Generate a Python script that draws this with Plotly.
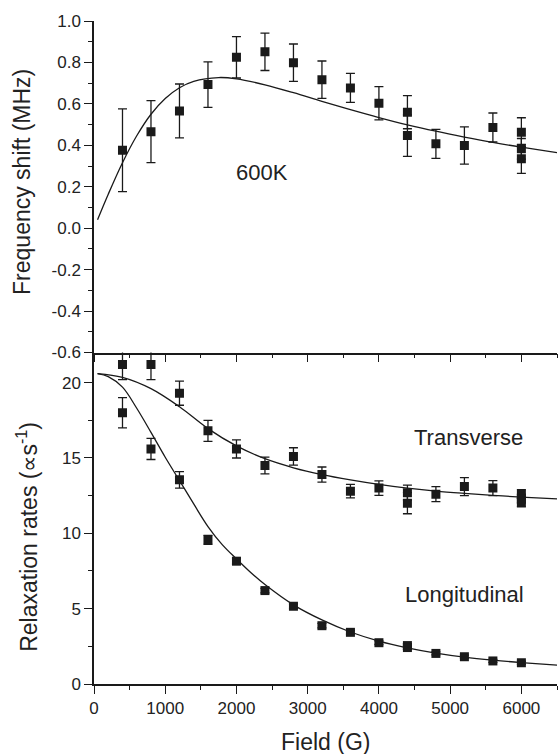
import plotly.graph_objects as go
from plotly.subplots import make_subplots

# ---------------- data ----------------
# Top panel: frequency shift (MHz) at 600 K
shift_field = [400, 800, 1200, 1600, 2000, 2400, 2800, 3200, 3600, 4000, 4400, 4400,
               4800, 5200, 5600, 6000, 6000, 6000]
shift_vals = [0.376, 0.466, 0.566, 0.693, 0.825, 0.851, 0.799, 0.717, 0.677, 0.603,
              0.560, 0.447, 0.407, 0.399, 0.486, 0.463, 0.383, 0.335]
shift_err = [0.20, 0.15, 0.13, 0.11, 0.10, 0.09, 0.09, 0.09, 0.07, 0.08,
             0.08, 0.10, 0.07, 0.09, 0.07, 0.07, 0.05, 0.07]

shift_fit_field = [50, 200, 400, 600, 800, 1000, 1200, 1400, 1750, 2000, 2400, 2800,
                   3200, 3600, 4000, 4400, 4800, 5200, 5600, 6000, 6500]
shift_fit_vals = [0.041, 0.164, 0.316, 0.446, 0.550, 0.626, 0.678, 0.709, 0.727, 0.721,
                  0.692, 0.654, 0.612, 0.572, 0.534, 0.499, 0.468, 0.440, 0.414, 0.391, 0.365]

# Bottom panel: relaxation rates
trans_field = [400, 800, 1200, 1600, 2000, 2400, 2800, 3200, 3600, 4000, 4400, 4400,
               4800, 5200, 5600, 6000, 6000, 6000]
trans_vals = [21.2, 21.2, 19.3, 16.8, 15.6, 14.5, 15.1, 13.9, 12.8, 13.0, 12.7, 12.0,
              12.6, 13.1, 13.0, 12.6, 12.3, 12.05]
trans_err = [1.0, 1.0, 0.8, 0.7, 0.6, 0.55, 0.58, 0.5, 0.45, 0.48, 0.5, 0.7,
             0.5, 0.6, 0.5, 0.3, 0.3, 0.3]

long_field = [400, 800, 1200, 1600, 2000, 2400, 2800, 3200, 3600, 4000, 4400, 4400,
              4800, 5200, 5600, 6000]
long_vals = [18.0, 15.6, 13.55, 9.57, 8.15, 6.2, 5.16, 3.87, 3.43, 2.74, 2.55, 2.42,
             2.03, 1.81, 1.53, 1.41]
long_err = [1.0, 0.7, 0.55, 0.3, 0.2, 0.15, 0.15, 0.15, 0.12, 0.12, 0.12, 0.12,
            0.1, 0.1, 0.1, 0.1]

trans_fit_field = [50, 400, 800, 1200, 1600, 2000, 2400, 2800, 3200, 3600, 4000,
                   4400, 4800, 5200, 5600, 6000, 6500]
trans_fit_vals = [20.6, 20.35, 19.6, 18.4, 16.95, 15.8, 14.95, 14.35, 13.9, 13.55, 13.25,
                  13.0, 12.8, 12.65, 12.52, 12.4, 12.28]

long_fit_field = [50, 200, 400, 600, 800, 1000, 1200, 1400, 1600, 1800, 2000, 2200, 2400,
                  2800, 3200, 3600, 4000, 4400, 4800, 5200, 5600, 6000, 6500]
long_fit_vals = [20.6, 20.4, 19.7, 18.3, 16.7, 15.05, 13.5, 11.95, 10.45, 9.25, 8.3, 7.4,
                 6.6, 5.25, 4.25, 3.45, 2.85, 2.4, 2.05, 1.78, 1.58, 1.42, 1.25]

top_ytick_vals = [-0.6, -0.4, -0.2, 0.0, 0.2, 0.4, 0.6, 0.8, 1.0]
top_ytick_text = ["-0.6", "-0.4", "-0.2", "0.0", "0.2", "0.4", "0.6", "0.8", "1.0"]
bot_ytick_vals = [0, 5, 10, 15, 20]
xtick_vals = [0, 1000, 2000, 3000, 4000, 5000, 6000]

# ---------------- styling ----------------
INK = "#1a1a1a"
FONT = "Liberation Sans, Arial, Helvetica, sans-serif"

fig = make_subplots(rows=2, cols=1, shared_xaxes=False, vertical_spacing=0.0)

marker = dict(symbol="square", size=9, color=INK, line=dict(width=0))

def ebar(err):
    return dict(type="data", array=err, visible=True, color=INK, thickness=1.3, width=4.5)

fig.add_trace(go.Scatter(x=shift_field, y=shift_vals, mode="markers", marker=marker,
                         error_y=ebar(shift_err), showlegend=False), row=1, col=1)
fig.add_trace(go.Scatter(x=shift_fit_field, y=shift_fit_vals, mode="lines",
                         line=dict(color=INK, width=1.3, shape="spline"),
                         showlegend=False), row=1, col=1)

fig.add_trace(go.Scatter(x=trans_field, y=trans_vals, mode="markers", marker=marker,
                         error_y=ebar(trans_err), showlegend=False), row=2, col=1)
fig.add_trace(go.Scatter(x=long_field, y=long_vals, mode="markers", marker=marker,
                         error_y=ebar(long_err), showlegend=False), row=2, col=1)
fig.add_trace(go.Scatter(x=trans_fit_field, y=trans_fit_vals, mode="lines",
                         line=dict(color=INK, width=1.3, shape="spline"),
                         showlegend=False), row=2, col=1)
fig.add_trace(go.Scatter(x=long_fit_field, y=long_fit_vals, mode="lines",
                         line=dict(color=INK, width=1.3, shape="spline"),
                         showlegend=False), row=2, col=1)

axis_common = dict(showline=True, linecolor=INK, linewidth=1.5, showgrid=False,
                   zeroline=False, ticks="outside", ticklen=8, tickwidth=1.3,
                   tickcolor=INK, tickfont=dict(family=FONT, size=17, color="#222"))

fig.update_layout(
    xaxis=dict(axis_common, range=[0, 6500], tickvals=xtick_vals, showticklabels=False,
               domain=[0, 1],
               minor=dict(dtick=500, tick0=0, ticks="outside", ticklen=4, tickwidth=1.3,
                          tickcolor=INK, showgrid=False)),
    yaxis=dict(axis_common, range=[-0.6, 1.0], domain=[0.5, 1],
               tickvals=top_ytick_vals, ticktext=top_ytick_text,
               minor=dict(dtick=0.1, tick0=0, ticks="outside", ticklen=4, tickwidth=1.3,
                          tickcolor=INK, showgrid=False)),
    xaxis2=dict(axis_common, range=[0, 6500], tickvals=xtick_vals, domain=[0, 1],
                minor=dict(dtick=500, tick0=0, ticks="outside", ticklen=4, tickwidth=1.3,
                           tickcolor=INK, showgrid=False)),
    yaxis2=dict(axis_common, range=[0, 22], domain=[0, 0.5], tickvals=bot_ytick_vals,
                minor=dict(dtick=2.5, tick0=0, ticks="outside", ticklen=4, tickwidth=1.3,
                           tickcolor=INK, showgrid=False)),
    width=558, height=754,
    margin=dict(l=94, r=1, t=21, b=70),
    paper_bgcolor="white", plot_bgcolor="white",
    font=dict(family=FONT, color="#222"),
)

ann_font_title = dict(family=FONT, size=23, color="#222")
ann_font_label = dict(family=FONT, size=22, color="#222")
fig.add_annotation(text="Frequency shift (MHz)", textangle=-90, xref="paper", yref="paper",
                   x=-0.1544, y=0.7565, xanchor="center", yanchor="middle",
                   showarrow=False, font=ann_font_title)
fig.add_annotation(text="Relaxation rates (\u221ds<sup>-1</sup>)", textangle=-90,
                   xref="paper", yref="paper", x=-0.1436, y=0.2213,
                   xanchor="center", yanchor="middle", showarrow=False, font=ann_font_title)
fig.add_annotation(text="Field (G)", xref="paper", yref="paper", x=0.5, y=-0.087,
                   xanchor="center", yanchor="middle", showarrow=False, font=ann_font_title)
fig.add_annotation(text="600K", xref="x", yref="y", x=2355, y=0.271,
                   xanchor="center", yanchor="middle", showarrow=False, font=ann_font_label)
fig.add_annotation(text="Transverse", xref="x2", yref="y2", x=5263, y=16.35,
                   xanchor="center", yanchor="middle", showarrow=False, font=ann_font_label)
fig.add_annotation(text="Longitudinal", xref="x2", yref="y2", x=5207, y=5.93,
                   xanchor="center", yanchor="middle", showarrow=False, font=ann_font_label)

fig.write_html("out.html")
